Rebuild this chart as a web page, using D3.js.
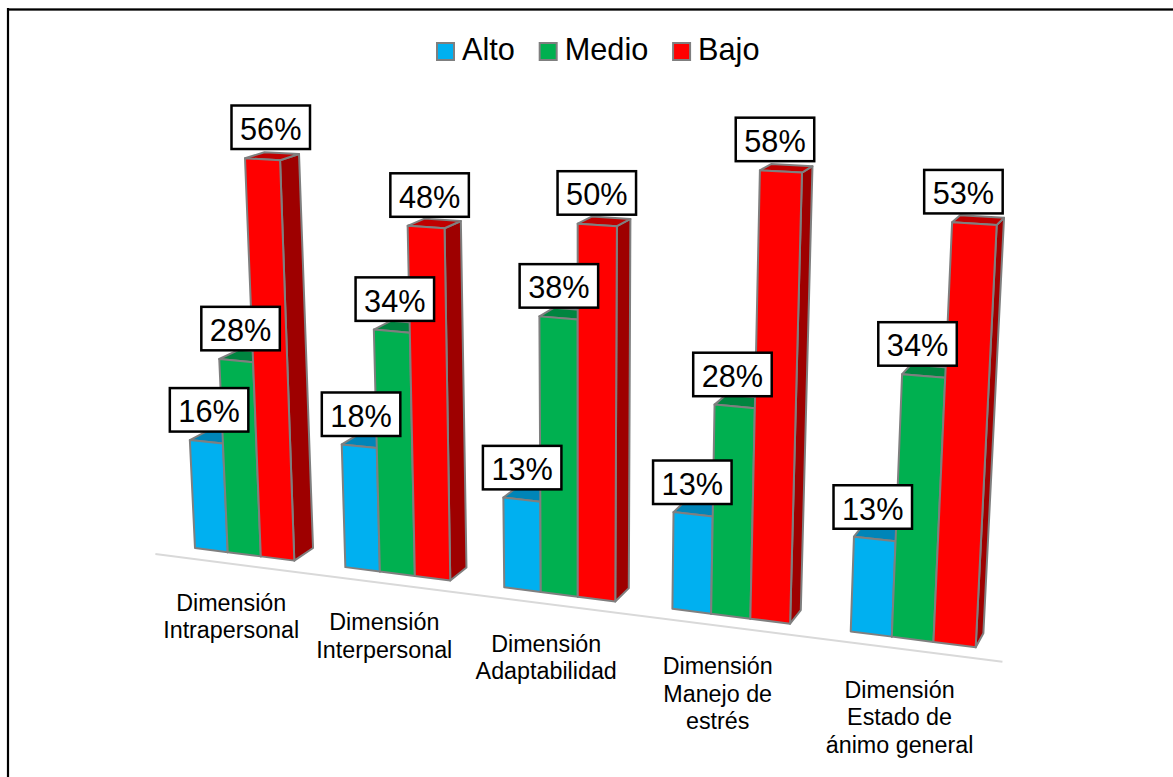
<!DOCTYPE html>
<html lang="es">
<head>
<meta charset="utf-8">
<script src="https://cdn.jsdelivr.net/npm/d3@7"></script>
<style>
  html, body { margin: 0; padding: 0; background: #fff; }
  svg { display: block; }
  text { font-family: "Liberation Sans", Arial, sans-serif; fill: #000; }
</style>
</head>
<body>
<div id="chart"></div>
<script>
// --- data ---
const categories = [
  ["Dimensión", "Intrapersonal"],
  ["Dimensión", "Interpersonal"],
  ["Dimensión", "Adaptabilidad"],
  ["Dimensión", "Manejo de", "estrés"],
  ["Dimensión", "Estado de", "ánimo general"]
];
const seriesNames = ["Alto", "Medio", "Bajo"];
const alto  = [15.9, 17.6, 12.6, 13.2, 12.6];
const medio = [28, 34, 37.6, 28, 34];
const bajo  = [56, 48.3, 50, 58, 53];
const frontColors = ["#00b0f0", "#00b050", "#ff0000"];
const topColors   = ["#0085b8", "#008540", "#c00000"];
const sideColors  = ["#00749e", "#00702f", "#9e0000"];

// --- layout ---
const W = 1173, H = 777;
const seriesValues = [alto, medio, bajo];
const catIdx = d3.range(categories.length);

const u = d3.scaleBand().domain(catIdx).range([0, 1]).paddingInner(1 / 3).paddingOuter(1 / 6);
const uSeries = d3.scaleBand().domain(d3.range(seriesNames.length)).range([0, u.bandwidth()]);
const vMax = 60;
const v = d3.scaleLinear().domain([0, vMax]).range([0, 1]);

// perspective: calibration of the front plane of the bars (unit square to page)
const calib = [
  [[u(0), v(0)], [195, 548]],
  [[u(4) + u.bandwidth(), v(0)], [975.7, 647.3]],
  [[u(4) + u.bandwidth(), v(53)], [996.7, 225]],
  [[u(0) + uSeries(2), v(56)], [245, 158.3]]
];
function solve(A, b) {
  const n = b.length, M = A.map((r, i) => [...r, b[i]]);
  for (let c = 0; c < n; c++) {
    let p = c;
    for (let r = c + 1; r < n; r++) if (Math.abs(M[r][c]) > Math.abs(M[p][c])) p = r;
    [M[c], M[p]] = [M[p], M[c]];
    for (let r = 0; r < n; r++) {
      if (r === c) continue;
      const f = M[r][c] / M[c][c];
      for (let k = c; k <= n; k++) M[r][k] -= f * M[c][k];
    }
  }
  return M.map((r, i) => r[n] / r[i]);
}
const H8 = (() => {
  const A = [], b = [];
  calib.forEach(([[s, t], [x, y]]) => {
    A.push([s, t, 1, 0, 0, 0, -s * x, -t * x]); b.push(x);
    A.push([0, 0, 0, s, t, 1, -s * y, -t * y]); b.push(y);
  });
  return solve(A, b);
})();
const vanish = [1450, -220];
const barDepth = 0.0162, axisDepth = -0.012;

function project(s, value, depth = 0) {
  const t = v(value);
  const w = H8[6] * s + H8[7] * t + 1;
  const x = (H8[0] * s + H8[1] * t + H8[2]) / w;
  const y = (H8[3] * s + H8[4] * t + H8[5]) / w;
  return [x + (vanish[0] - x) * depth, y + (vanish[1] - y) * depth];
}

const svg = d3.select("#chart").append("svg").attr("width", W).attr("height", H);
svg.append("rect").attr("width", W).attr("height", H).attr("fill", "#fff");

// frame: left and top edges only, the rest falls outside the picture
svg.append("line").attr("x1", 8).attr("y1", 9.5).attr("x2", W).attr("y2", 9.5)
  .attr("stroke", "#777").attr("stroke-width", 3);
svg.append("line").attr("x1", 8).attr("y1", 9.5).attr("x2", W).attr("y2", 9.5)
  .attr("stroke", "#000").attr("stroke-width", 1.5);
svg.append("line").attr("x1", 8).attr("y1", 8).attr("x2", 8).attr("y2", H)
  .attr("stroke", "#000").attr("stroke-width", 2.2);

// floor line
svg.append("line")
  .attr("x1", project(0, 0, axisDepth)[0]).attr("y1", project(0, 0, axisDepth)[1])
  .attr("x2", project(1, 0, axisDepth)[0]).attr("y2", project(1, 0, axisDepth)[1])
  .attr("stroke", "#d9d9d9").attr("stroke-width", 2);

// bars
const bars = [];
catIdx.forEach(c => seriesValues.forEach((vals, s) => {
  const u0 = u(c) + uSeries(s), u1 = u0 + uSeries.bandwidth();
  bars.push({ c, s, u0, u1, val: vals[c] });
}));
const poly = d3.line();
const gBars = svg.append("g").attr("stroke", "#7f7f7f").attr("stroke-width", 2).attr("stroke-linejoin", "round");
bars.forEach(b => {
  gBars.append("path").attr("fill", sideColors[b.s]).attr("d", poly([
    project(b.u1, 0), project(b.u1, 0, barDepth), project(b.u1, b.val, barDepth), project(b.u1, b.val)
  ]) + "Z");
  gBars.append("path").attr("fill", topColors[b.s]).attr("d", poly([
    project(b.u0, b.val), project(b.u0, b.val, barDepth), project(b.u1, b.val, barDepth), project(b.u1, b.val)
  ]) + "Z");
  gBars.append("path").attr("fill", frontColors[b.s]).attr("d", poly([
    project(b.u0, 0), project(b.u1, 0), project(b.u1, b.val), project(b.u0, b.val)
  ]) + "Z");
});

// data labels
const fmt = d => d3.format(".0f")(d) + "%";
const boxW = 78.5, boxH = 43.5;
const gLabels = svg.append("g");
bars.forEach(b => {
  const um = (b.u0 + b.u1) / 2;
  const base = project(um, 0), top = project(um, b.val);
  const cx = base[0] + (top[0] - base[0]) * 0.45;
  const cy = top[1] - 32;
  gLabels.append("rect")
    .attr("x", cx - boxW / 2).attr("y", cy - boxH / 2)
    .attr("width", boxW).attr("height", boxH)
    .attr("fill", "#fff").attr("stroke", "#000").attr("stroke-width", 2.5);
  gLabels.append("text")
    .attr("x", cx).attr("y", cy + 12.5)
    .attr("text-anchor", "middle").attr("font-size", 30.7)
    .text(fmt(b.val));
});

// category labels
const catFont = 23.3, catLead = 27.8;
catIdx.forEach(c => {
  const um = u(c) + u.bandwidth() / 2;
  const base = project(um, 0);
  const t = svg.append("text").attr("text-anchor", "middle").attr("font-size", catFont);
  categories[c].forEach((line, i) => {
    t.append("tspan")
      .attr("x", base[0] - 13).attr("y", base[1] + 56 + 2.5 * um + i * catLead)
      .text(line);
  });
});

// legend
let lx = 437;
const lg = svg.append("g");
seriesNames.forEach((name, i) => {
  lg.append("rect").attr("x", lx).attr("y", 43).attr("width", 17).attr("height", 17)
    .attr("fill", frontColors[i]).attr("stroke", "#7f7f7f").attr("stroke-width", 2);
  const txt = lg.append("text").attr("x", lx + 25).attr("y", 60).attr("font-size", 30.7).text(name);
  lx += 25 + txt.node().getComputedTextLength() + 24.8;
});
</script>
</body>
</html>
